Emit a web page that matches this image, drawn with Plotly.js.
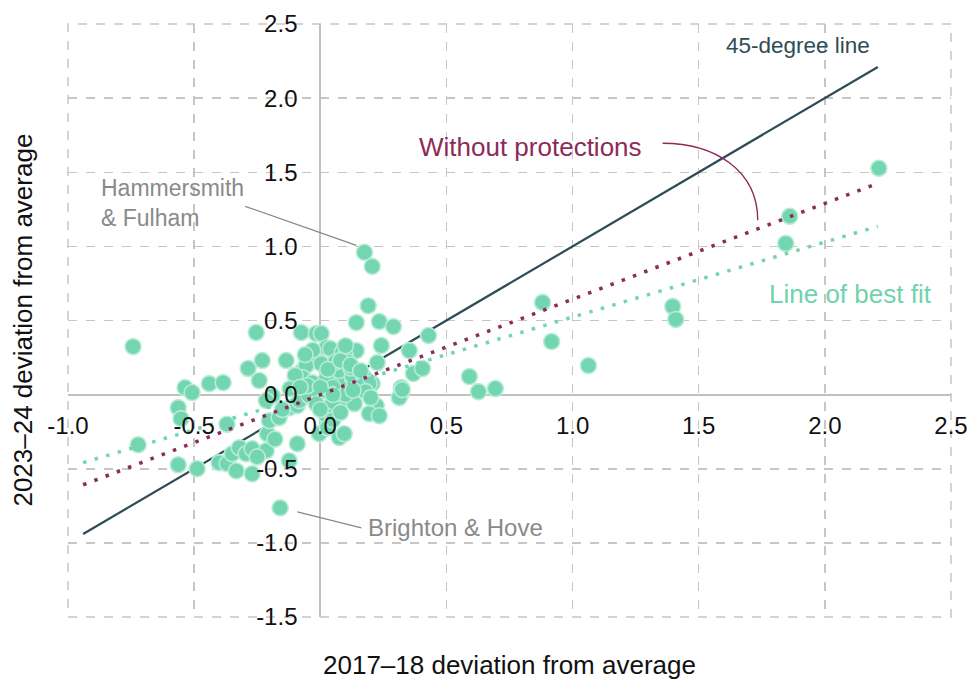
<!DOCTYPE html>
<html>
<head>
<meta charset="utf-8">
<script src="https://cdn.plot.ly/plotly-3.0.1.min.js"></script>
<style>html,body{margin:0;padding:0;background:#fff}#chart{width:972px;height:679px}</style>
</head>
<body>
<div id="chart"></div>
<script>
// Local authority deviations from average (2017-18 vs 2023-24)
const dev2017 = [
 -0.742,-0.722,-0.563,-0.552,-0.536,-0.508,-0.563,-0.488,-0.44,-0.385,
 -0.401,-0.369,-0.333,-0.349,-0.321,-0.294,-0.27,-0.27,-0.254,-0.286,
 -0.23,-0.242,-0.135,-0.075,-0.016,-0.214,-0.21,-0.202,-0.163,-0.19,
 -0.214,-0.123,-0.091,-0.083,-0.091,-0.123,-0.004,-0.071,-0.044,-0.056,
 0.004,-0.071,-0.032,0.028,0.075,0.127,0.179,0.206,-0.044,0.016,
 -0.016,0.048,0.103,0.135,0.024,0.028,0.075,0.095,0.05,0.222,
 0.194,0.234,0.321,0.313,0.321,0.004,0.024,0.04,0.087,0.143,
 0.099,0.063,0.075,0.024,0.127,0.175,0.194,0.226,0.242,0.175,
 0.206,0.19,0.143,0.234,0.29,0.429,0.353,0.369,0.405,0.325,
 -0.159,0.591,0.627,0.694,0.881,0.917,1.063,1.397,1.409,1.845,
 1.861,2.214,-0.1,0.05,0.1,0.15,-0.12,0.06,0.11,-0.15,
 0.0,0.12,-0.05,0.08,0.0,0.03,0.08,0.12,0.16,-0.03,
 0.1,0.05,0.18,0.2,-0.08,-0.06,0.13,-0.25,-0.18,-0.37
];
const dev2023 = [
 0.324,-0.338,-0.088,-0.162,0.047,0.014,-0.473,-0.5,0.074,0.081,
 -0.459,-0.466,-0.514,-0.399,-0.358,-0.399,-0.365,-0.534,0.419,0.176,
 0.23,0.095,0.23,0.419,0.412,-0.378,-0.264,-0.176,-0.155,-0.007,
 -0.04,-0.088,-0.074,-0.04,-0.331,-0.446,-0.264,0.162,0.216,0.196,
 0.209,0.115,0.081,0.115,0.081,0.115,0.061,0.074,-0.007,0.027,
 -0.061,-0.061,-0.027,-0.061,-0.142,-0.223,-0.29,-0.264,-0.17,-0.074,
 -0.128,-0.142,0.007,-0.02,0.047,0.412,0.318,0.31,0.284,0.297,
 0.264,0.182,0.162,0.108,0.128,0.115,0.074,0.216,0.331,0.96,
 0.865,0.60,0.486,0.493,0.459,0.399,0.297,0.142,0.176,0.034,
 -0.764,0.122,0.02,0.041,0.622,0.358,0.196,0.595,0.507,1.02,
 1.203,1.527,0.13,0.05,0.0,0.05,0.04,0.22,0.22,-0.1,
 -0.1,0.18,0.06,-0.12,0.05,0.17,0.23,0.2,0.16,0.3,
 0.33,0.0,0.02,-0.02,0.05,0.27,0.03,-0.42,-0.3,-0.2
];
// Lines
const diagX = [-0.94, 2.21];
const diagY = [-0.94, 2.21];
const noProtX = [-0.94, 2.19];
const noProtY = [-0.608, 1.412];
const fitX = [-0.94, 2.21];
const fitY = [-0.459, 1.135];
// Tick labels
const xTicks = [-1.0,-0.5,0.0,0.5,1.0,1.5,2.0,2.5];
const xTickText = ["-1.0","-0.5","0.0","0.5","1.0","1.5","2.0","2.5"];
const yTicks = [-1.5,-1.0,-0.5,0.0,0.5,1.0,1.5,2.0,2.5];
const yTickText = ["-1.5","-1.0","-0.5","0.0","0.5","1.0","1.5","2.0","2.5"];

const DARK = '#2E4C55', MAROON = '#8B2B5B', TEAL = '#74D5B1', GREY = '#8a8a8a';
const FONT = 'Liberation Sans, Arial, sans-serif';

const traces = [
 {x: diagX, y: diagY, mode: 'lines', line: {color: DARK, width: 2.2}, hoverinfo: 'skip'},
 {x: dev2017, y: dev2023, mode: 'markers',
  marker: {size: 16, color: TEAL, line: {color: '#B6ECD8', width: 1.6}}},
 {x: noProtX, y: noProtY, mode: 'lines', line: {color: MAROON, width: 3.5, dash: '3.5px,8.5px'}},
 {x: fitX, y: fitY, mode: 'lines', line: {color: TEAL, width: 3.5, dash: '3.5px,8.5px'}}
];

const axisCommon = {
 showgrid: true, gridcolor: '#c6c6c6', gridwidth: 1.5, griddash: 'dash',
 zeroline: true, zerolinecolor: '#c0c0c0', zerolinewidth: 2,
 showline: false, ticks: 'outside', tickcolor: 'rgba(0,0,0,0)',
 tickfont: {family: FONT, size: 24, color: '#111'}, fixedrange: true
};

const layout = {
 width: 972, height: 679,
 margin: {l: 68, r: 21, t: 24, b: 62},
 paper_bgcolor: '#fff', plot_bgcolor: '#fff',
 showlegend: false,
 font: {family: FONT},
 xaxis: Object.assign({}, axisCommon, {range: [-1, 2.5], tickvals: xTicks, ticktext: xTickText,
   anchor: 'free', position: 0.375, ticklen: 10}),
 yaxis: Object.assign({}, axisCommon, {range: [-1.5, 2.5], tickvals: yTicks, ticktext: yTickText,
   anchor: 'free', position: 1/3.5, ticklen: 18}),
 shapes: [
  {type: 'rect', xref: 'paper', yref: 'paper', x0: 0, x1: 1, y0: 0, y1: 1, layer: 'below',
   line: {color: '#c6c6c6', width: 1.5, dash: 'dash'}},
  {type: 'line', xref: 'x', yref: 'y', x0: -0.298, y0: 1.270, x1: 0.143, y1: 1.007, line: {color: '#888', width: 1.2}},
  {type: 'line', xref: 'x', yref: 'y', x0: -0.091, y0: -0.791, x1: 0.163, y1: -0.899, line: {color: '#888', width: 1.2}},
  {type: 'path', xref: 'x', yref: 'y', path: 'M 1.357 1.696 C 1.563 1.696 1.734 1.514 1.734 1.176', line: {color: MAROON, width: 1.4}}
 ],
 annotations: [
  {xref: 'x', yref: 'y', x: 1.599, y: 2.358, xanchor: 'left', yanchor: 'middle', showarrow: false,
   text: '45-degree line', font: {family: FONT, size: 22.5, color: DARK}},
  {xref: 'x', yref: 'y', x: 0.385, y: 1.669, xanchor: 'left', yanchor: 'middle', showarrow: false,
   text: 'Without protections', font: {family: FONT, size: 26, color: MAROON}},
  {xref: 'x', yref: 'y', x: 1.77, y: 0.682, xanchor: 'left', yanchor: 'middle', showarrow: false,
   text: 'Line of best fit', font: {family: FONT, size: 26, color: '#6FD3AD'}},
  {xref: 'x', yref: 'y', x: -0.877, y: 1.29, xanchor: 'left', yanchor: 'middle', showarrow: false, align: 'left',
   text: 'Hammersmith<br>& Fulham', font: {family: FONT, size: 23, color: GREY}},
  {xref: 'x', yref: 'y', x: 0.183, y: -0.899, xanchor: 'left', yanchor: 'middle', showarrow: false,
   text: 'Brighton & Hove', font: {family: FONT, size: 24, color: GREY}},
  {xref: 'paper', yref: 'paper', x: 0.5, y: -0.081, xanchor: 'center', yanchor: 'middle', showarrow: false,
   text: '2017–18 deviation from average', font: {family: FONT, size: 26, color: '#111'}},
  {xref: 'paper', yref: 'paper', x: -0.052, y: 0.5, xanchor: 'center', yanchor: 'middle', showarrow: false, textangle: -90,
   text: '2023–24 deviation from average', font: {family: FONT, size: 26, color: '#111'}}
 ]
};

Plotly.newPlot('chart', traces, layout, {displayModeBar: false, staticPlot: true});
</script>
</body>
</html>
